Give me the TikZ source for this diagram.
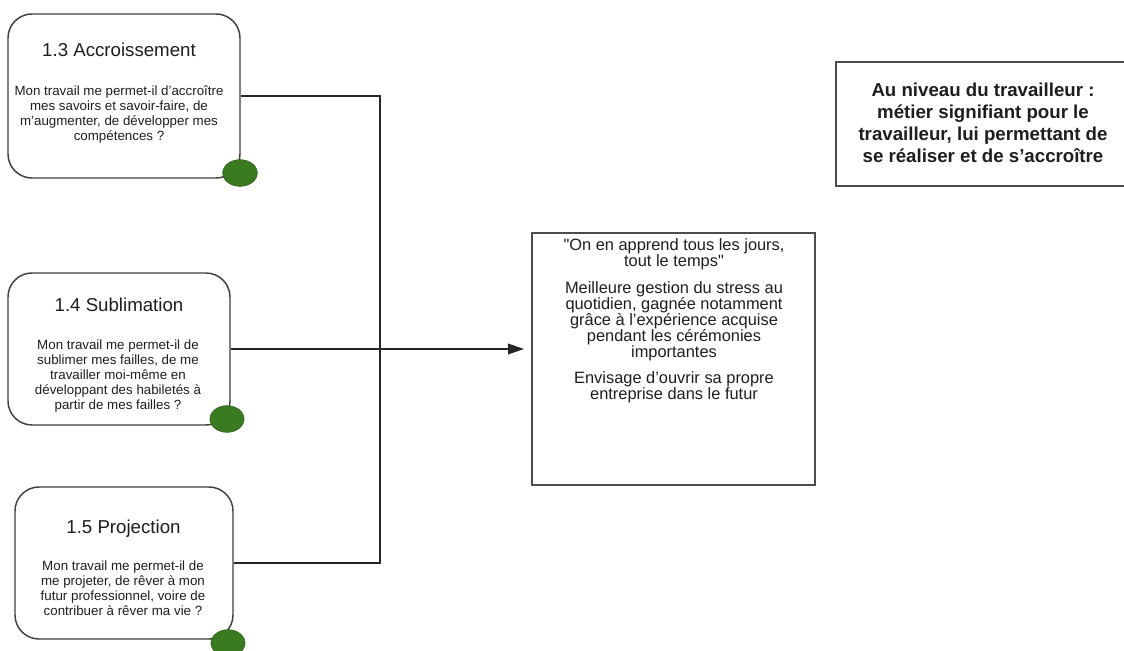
\documentclass[tikz,border=0pt]{standalone}
\usepackage{fontspec}
\setmainfont{Liberation Sans}
\usetikzlibrary{fit,arrows.meta}
\definecolor{dotgreen}{RGB}{58,122,32}
\definecolor{dotedge}{RGB}{42,92,22}
\definecolor{ink}{RGB}{30,30,30}
\begin{document}
\begin{tikzpicture}[x=0.75pt,y=-0.75pt,
  rbox/.style={draw=black!75, line width=1.1pt, rounded corners=18pt, inner sep=0pt},
  sbox/.style={draw=black!70, line width=1pt, inner sep=0pt},
  conn/.style={draw=black!85, line width=1pt},
  dot/.style={fill=dotgreen, draw=dotedge, line width=0.4pt},
  ttl/.style={font=\fontsize{14}{16}\selectfont, text=ink, inner sep=0pt},
  body/.style={font=\fontsize{10}{11.3}\selectfont, align=center, text=ink, inner sep=0pt},
  ctext/.style={font=\fontsize{12.3}{12}\selectfont, align=center, text=ink, inner sep=0pt},
  htext/.style={font=\fontsize{14}{16.4}\selectfont\bfseries, align=center, text=ink, inner sep=0pt}]
\useasboundingbox (0,0) rectangle (1124,650);
\clip (0,0) rectangle (1124,650);
\fill[white] (0,0) rectangle (1124,650);

% left boxes
\node[rbox, fit={(8,14)(240,178)}] (b1) {};
\node[rbox, fit={(8,273)(230,425)}] (b2) {};
\node[rbox, fit={(15,487)(233,639)}] (b3) {};

% result boxes
\node[sbox, fit={(532,233)(815,485)}] (res) {};
\node[sbox, fit={(836,62)(1130,186)}] (lvl) {};

% connectors
\coordinate (jx) at (380,0);
\coordinate (tip) at (524,349);
\draw[conn] (b1.east) -| (jx |- b3.east) -- (b3.east);
\draw[conn, -{Triangle[length=12pt,width=8pt]}] (b2.east) -- (b2.east -| tip);

% green dots
\draw[dot] (240,173) ellipse [x radius=13pt, y radius=10pt];
\draw[dot] (227,419) ellipse [x radius=12.8pt, y radius=10pt];
\draw[dot] (228,643) ellipse [x radius=12.8pt, y radius=10pt];

% texts
\node[ttl] (t1) at (119,50) {1.3 Accroissement};
\node[body] (d1) at (119,114.5) {Mon travail me permet-il d’accroître\\mes savoirs et savoir-faire, de\\m’augmenter, de développer mes\\compétences ?};
\node[ttl] (t2) at (119,305) {1.4 Sublimation};
\node[body] (d2) at (118,376) {Mon travail me permet-il de\\sublimer mes failles, de me\\travailler moi-même en\\développant des habiletés à\\partir de mes failles ?};
\node[ttl] (t3) at (123.5,529) {1.5 Projection};
\node[body] (d3) at (123,588.5) {Mon travail me permet-il de\\me projeter, de rêver à mon\\futur professionnel, voire de\\contribuer à rêver ma vie ?};

\node[ctext] (rt) at (674,321) {\textquotedbl On en apprend tous les jours,\\tout le temps\textquotedbl\\[8pt]Meilleure gestion du stress au\\quotidien, gagnée notamment\\grâce à l’expérience acquise\\pendant les cérémonies\\importantes\\[8pt]Envisage d’ouvrir sa propre\\entreprise dans le futur};

\node[htext] (lt) at (983,123) {Au niveau du travailleur :\\métier signifiant pour le\\travailleur, lui permettant de\\se réaliser et de s’accroître};
\end{tikzpicture}
\end{document}
